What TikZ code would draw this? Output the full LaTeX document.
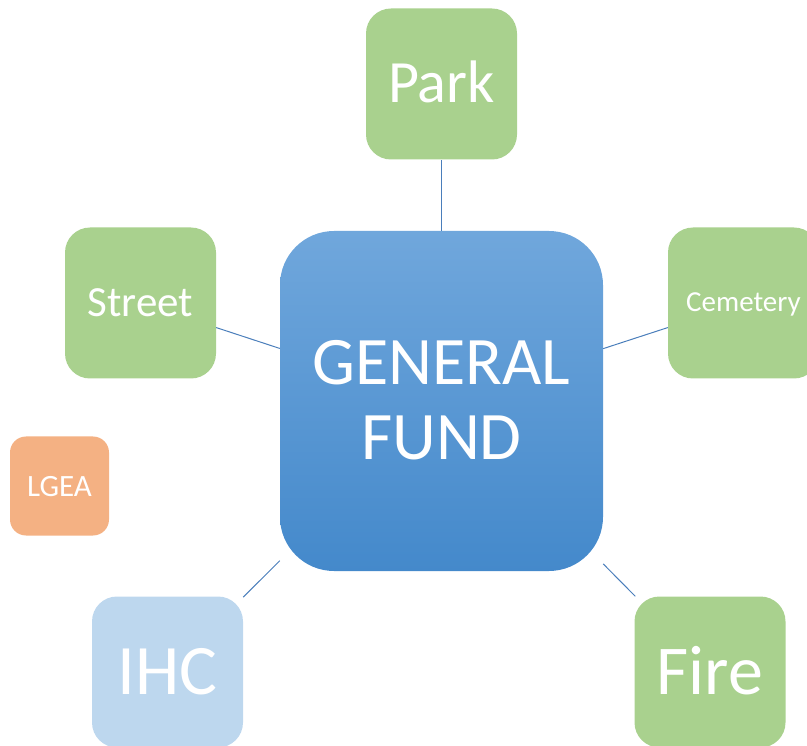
\documentclass[tikz,border=0pt]{standalone}
\usepackage{fontspec}
\setmainfont{Carlito}
\definecolor{fundgreen}{HTML}{A9D18E}
\definecolor{fundorange}{HTML}{F4B183}
\definecolor{fundpale}{HTML}{BDD7EE}
\definecolor{fundtop}{HTML}{70A7DC}
\definecolor{fundbottom}{HTML}{4489CB}
\definecolor{linkblue}{HTML}{4A7EBB}

\begin{document}
\begin{tikzpicture}[x=1pt,y=-1pt,
    fundbox/.style={rounded corners=25pt,minimum width=151pt,minimum height=151pt,inner sep=0pt,text=white,text depth=0pt},
    greenbox/.style={fundbox,fill=fundgreen},
    link/.style={draw=linkblue,line width=1pt}]
  \useasboundingbox (0,0) rectangle (807,746);
  % centre
  \node[fundbox,minimum width=323pt,minimum height=340pt,rounded corners=54pt,
    top color=fundtop,bottom color=fundbottom,align=center,
    font=\fontsize{68}{75}\selectfont,text height=118pt] (general fund) at (441.5,401) {GENERAL\\FUND};
  % funds round it
  \node[greenbox,font=\fontsize{60}{72}\selectfont,text height=38pt] (park) at (441.5,84) {Park};
  \node[greenbox,font=\fontsize{43}{52}\selectfont,text height=27pt] (street) at (140.5,303) {Street};
  \node[greenbox,font=\fontsize{29}{35}\selectfont,text height=18pt] (cemetery) at (743.5,303) {Cemetery};
  \node[greenbox,font=\fontsize{70}{84}\selectfont,text height=44pt] (fire) at (710,672) {Fire};
  \node[fundbox,fill=fundpale,font=\fontsize{71}{85}\selectfont,text height=45pt] (ihc) at (167.5,672) {IHC};
  \node[fundbox,fill=fundorange,minimum width=99pt,minimum height=99pt,rounded corners=16pt,
    font=\fontsize{31}{37}\selectfont,text height=20pt] (lgea) at (59.5,486) {LGEA};
  % links
  \draw[link] (general fund) -- (park);
  \draw[link] (general fund) -- (street);
  \draw[link] (general fund) -- (cemetery);
  \draw[link] (general fund) -- (fire);
  \draw[link] (general fund) -- (ihc);
\end{tikzpicture}
\end{document}
